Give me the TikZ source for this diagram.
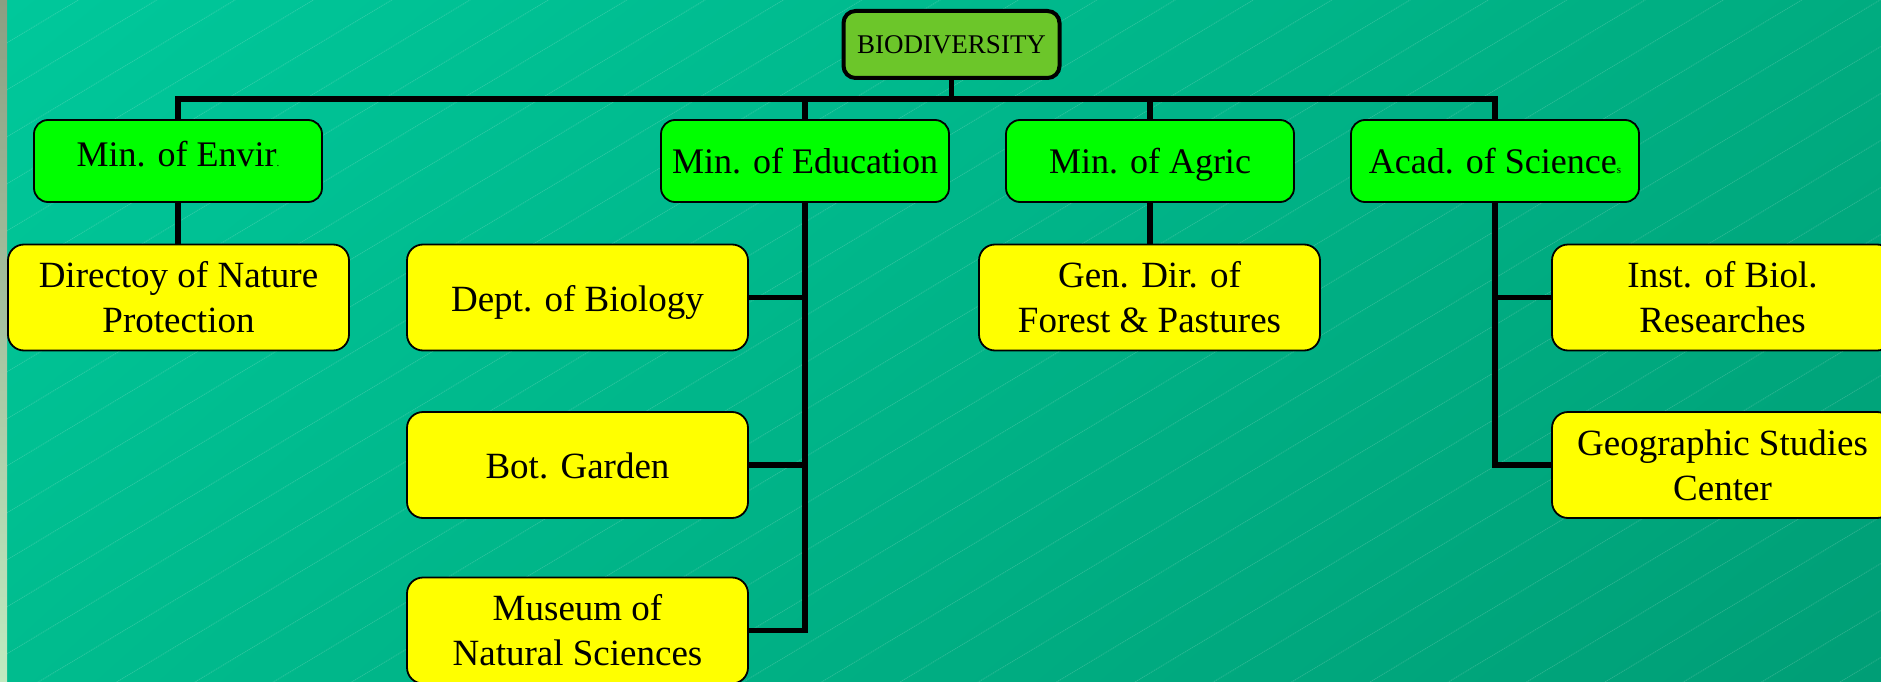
\documentclass[tikz,border=0pt]{standalone}
\usepackage{fontspec}
\setmainfont{Liberation Serif}
\usetikzlibrary{calc,shadings}
\definecolor{bgUL}{RGB}{0,200,155}
\definecolor{bgLL}{RGB}{0,188,142}
\definecolor{bgUR}{RGB}{0,172,128}
\definecolor{bgLR}{RGB}{0,158,118}
\definecolor{stripT}{RGB}{140,158,130}
\definecolor{stripB}{RGB}{192,234,192}
\definecolor{lvlgreen}{RGB}{0,255,0}
\definecolor{lvlyellow}{RGB}{255,255,0}
\definecolor{biogreen}{RGB}{108,198,42}
\tikzset{
  lvlone/.style={draw=black, line width=1.8pt, rounded corners=14pt, fill=lvlgreen,
    minimum width=288pt, minimum height=82pt, inner sep=0pt, align=center,
    text height=25pt, text depth=0pt,
    font=\fontsize{36}{43}\selectfont},
  lvltwo/.style={draw=black, line width=1.8pt, rounded corners=16pt, fill=lvlyellow,
    minimum width=341pt, minimum height=106pt, inner sep=0pt, align=center,
    font=\fontsize{37}{45}\selectfont},
  oneline/.style={text height=27.5pt, text depth=0pt},
  topbox/.style={draw=black, line width=4pt, rounded corners=12pt, fill=biogreen,
    minimum width=216pt, minimum height=67pt, inner sep=0pt,
    font=\fontsize{27}{30}\selectfont},
  conn/.style={draw=black, line width=5.5pt, line join=miter},
  hatchline/.style={white, opacity=0.16, line width=0.9pt, dash pattern=on 1.2pt off 0.8pt}
}
\begin{document}
\begin{tikzpicture}[x=1pt,y=1pt]
\useasboundingbox (0,0) rectangle (1881,-682);
\clip (0,0) rectangle (1881,-682);
% background
\shade[upper left=bgUL, lower left=bgLL, upper right=bgUR, lower right=bgLR]
  (0,0) rectangle (1881,-682);
\foreach \k in {-14,...,27}{
  \draw[hatchline] (0,{-611-47*\k}) -- (1881,{-611-47*\k+1128.6});
}
\shade[top color=stripT, bottom color=stripB] (0,0) rectangle (7,-682);

% nodes
\node[topbox] (bio) at (951.5,-44.5) {BIODIVERSITY};
\node[lvlone, text height=10pt] (env) at (178,-161) {Min. of Envir{\fontsize{11}{11}\selectfont .}};
\node[lvlone] (edu) at (805,-161) {Min. of Education};
\node[lvlone] (agr) at (1150,-161) {Min. of Agric};
\node[lvlone] (aca) at (1495,-161) {Acad. of Science{\fontsize{11}{11}\selectfont s}};

\node[lvltwo] (dir) at (178.5,-297.5) {Directoy of Nature\\Protection};
\node[lvltwo, oneline] (dept) at (577.5,-297.5) {Dept. of Biology};
\node[lvltwo, oneline] (bot) at (577.5,-465) {Bot. Garden};
\node[lvltwo] (mus) at (577.5,-630.5) {Museum of\\Natural Sciences};
\node[lvltwo] (gen) at (1149.5,-297.5) {Gen. Dir. of\\Forest \& Pastures};
\node[lvltwo] (inst) at (1722.5,-297.5) {Inst. of Biol.\\Researches};
\node[lvltwo] (geo) at (1722.5,-465) {Geographic Studies\\Center};

% connectors
\coordinate (bus) at (0,-99);
\draw[conn] (bio.south) -- (bio.south |- bus);
\draw[conn] (env.north) -- (env.north |- bus) -- (aca.north |- bus) -- (aca.north);
\draw[conn] (edu.north) -- (edu.north |- bus);
\draw[conn] (agr.north) -- (agr.north |- bus);
\draw[conn] (env.south) -- (env.south |- dir.north);
\draw[conn] (agr.south) -- (agr.south |- gen.north);
\draw[conn] (edu.south) |- (mus.east);
\draw[conn] (dept.east) -- (dept.east -| edu.south);
\draw[conn] (bot.east) -- (bot.east -| edu.south);
\draw[conn] (aca.south) |- (geo.west);
\draw[conn] (inst.west) -- (inst.west -| aca.south);
\end{tikzpicture}
\end{document}
